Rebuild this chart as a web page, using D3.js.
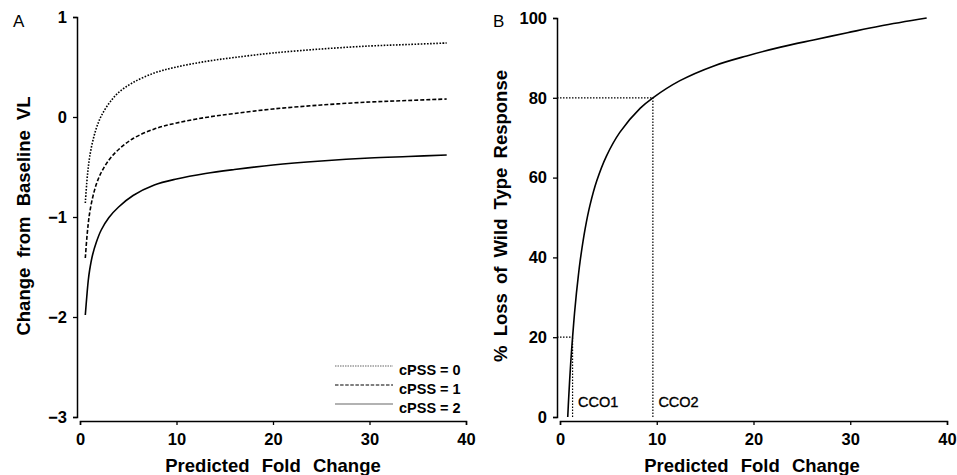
<!DOCTYPE html>
<html>
<head>
<meta charset="utf-8">
<script src="https://cdn.jsdelivr.net/npm/d3@7"></script>
<style>
  html, body { margin: 0; padding: 0; background: #fff; }
  svg { display: block; font-family: "Liberation Sans", Arial, Helvetica, sans-serif; }
  .tick text { font-weight: bold; font-size: 16.5px; fill: #000; }
</style>
</head>
<body>
<svg id="chart" width="957" height="475"></svg>
<script>
// ---------- Panel A data ----------
const foldA = [0.55, 0.7, 0.85, 1.0, 1.3, 1.7, 2.2, 3.0, 4.0, 5.5, 7.7, 10, 13, 16, 20, 25, 30, 34, 38];
const cpss0 = [-0.86, -0.66, -0.51, -0.40, -0.25, -0.11, 0.01, 0.135, 0.245, 0.345, 0.44, 0.50, 0.555, 0.595, 0.64, 0.68, 0.71, 0.725, 0.74];
const cpss1 = [-1.41, -1.22, -1.07, -0.96, -0.81, -0.67, -0.555, -0.43, -0.325, -0.215, -0.12, -0.06, -0.005, 0.035, 0.08, 0.12, 0.15, 0.165, 0.18];
const cpss2 = [-1.98, -1.80, -1.64, -1.53, -1.38, -1.25, -1.13, -1.005, -0.9, -0.785, -0.68, -0.62, -0.565, -0.525, -0.48, -0.44, -0.41, -0.395, -0.38];
const seriesNamesA = ["cPSS = 0", "cPSS = 1", "cPSS = 2"];
const xTicksA = [0, 10, 20, 30, 40];
const yTicksA = [-3, -2, -1, 0, 1];

// ---------- Panel B data ----------
const foldB = [0.8, 0.9, 1.0, 1.1, 1.2, 1.3, 1.5, 1.7, 1.9, 2.07, 2.6, 3.1, 3.8, 4.8, 6.2, 8.3, 9.6, 12.4, 15.9, 19.3, 22.8, 26.2, 29.7, 33.1, 37.9];
const lossB = [0, 4.9, 9.3, 13.3, 16.8, 20.0, 26.0, 31.1, 35.5, 38.9, 47.2, 53.1, 59.2, 65.4, 71.4, 77.4, 80.0, 84.3, 88.0, 90.5, 92.7, 94.5, 96.3, 98.0, 100];
const cutoffFold = [1.3, 9.6];
const cutoffLoss = [20, 80];
const cutoffLabels = ["CCO1", "CCO2"];
const xTicksB = [0, 10, 20, 30, 40];
const yTicksB = [0, 20, 40, 60, 80, 100];

const svg = d3.select("#chart");
const fmt = d3.format("d");

// dash styles per series
const dashes = ["1.6,1.5", "4,2", null];

function styleAxis(a) {
  a.selectAll(".domain").attr("stroke", "#000").attr("stroke-width", 1.5);
  a.selectAll(".tick line").attr("stroke", "#000").attr("stroke-width", 1.3);
}

// ---------- Panel A ----------
const xA = d3.scaleLinear().domain([0, 40]).range([80, 466]);
const yA = d3.scaleLinear().domain([-3, 1]).range([417, 17]);

const gA = svg.append("g");
const axXA = gA.append("g").attr("transform", "translate(0,421)")
  .call(d3.axisBottom(xA).tickValues(xTicksA).tickFormat(fmt).tickSizeOuter(0).tickSize(4).tickPadding(8));
const axYA = gA.append("g").attr("transform", "translate(77,0)")
  .call(d3.axisLeft(yA).tickValues(yTicksA).tickFormat(fmt).tickSizeOuter(0).tickSize(4).tickPadding(6));
styleAxis(axXA); styleAxis(axYA);

const lineA = d3.line().x(d => xA(d[0])).y(d => yA(d[1])).curve(d3.curveCatmullRom.alpha(0.5));
[cpss0, cpss1, cpss2].forEach((vals, i) => {
  gA.append("path")
    .datum(foldA.map((f, j) => [f, vals[j]]))
    .attr("d", lineA)
    .attr("fill", "none")
    .attr("stroke", "#000")
    .attr("stroke-width", 1.6)
    .attr("stroke-dasharray", dashes[i]);
});

// legend
const legY = [366, 385, 404];
seriesNamesA.forEach((name, i) => {
  gA.append("line")
    .attr("x1", 335).attr("x2", 393)
    .attr("y1", legY[i]).attr("y2", legY[i])
    .attr("stroke", i === 1 ? "#000" : "#666")
    .attr("stroke-width", i === 0 ? 1.1 : 1.2)
    .attr("stroke-dasharray", i === 0 ? "1.5,1" : (i === 1 ? "3.5,1.6" : null));
  gA.append("text")
    .attr("x", 399).attr("y", legY[i] + 8.5)
    .attr("font-size", 14.5).attr("font-weight", "bold")
    .text(name);
});

gA.append("text").attr("x", 273).attr("y", 472)
  .attr("text-anchor", "middle").attr("font-size", 18.5).attr("font-weight", "bold")
  .attr("word-spacing", 7)
  .text("Predicted Fold Change");
gA.append("text").attr("transform", "translate(30,216) rotate(-90)")
  .attr("text-anchor", "middle").attr("font-size", 18.5).attr("font-weight", "bold")
  .attr("word-spacing", 5)
  .text("Change from Baseline VL");
gA.append("text").attr("x", 13).attr("y", 27)
  .attr("font-size", 17).text("A");

// ---------- Panel B ----------
const xB = d3.scaleLinear().domain([0, 40]).range([560, 947]);
const yB = d3.scaleLinear().domain([0, 100]).range([417, 18]);
const yAxisXB = 557;

const gB = svg.append("g");
const axXB = gB.append("g").attr("transform", "translate(0,421)")
  .call(d3.axisBottom(xB).tickValues(xTicksB).tickFormat(fmt).tickSizeOuter(0).tickSize(4).tickPadding(8));
const axYB = gB.append("g").attr("transform", `translate(${yAxisXB},0)`)
  .call(d3.axisLeft(yB).tickValues(yTicksB).tickFormat(fmt).tickSizeOuter(0).tickSize(4).tickPadding(6));
styleAxis(axXB); styleAxis(axYB);

// cutoff guide lines
cutoffFold.forEach((f, i) => {
  gB.append("line")
    .attr("x1", yAxisXB).attr("x2", xB(f))
    .attr("y1", yB(cutoffLoss[i])).attr("y2", yB(cutoffLoss[i]))
    .attr("stroke", "#000").attr("stroke-width", 1.2).attr("stroke-dasharray", "1.5,1.5");
  gB.append("line")
    .attr("x1", xB(f)).attr("x2", xB(f))
    .attr("y1", yB(0)).attr("y2", yB(cutoffLoss[i]))
    .attr("stroke", "#000").attr("stroke-width", 1.2).attr("stroke-dasharray", "1.5,1.5");
  gB.append("text")
    .attr("x", xB(f) + 5.5).attr("y", yB(0) - 10.5)
    .attr("font-size", 14.5)
    .attr("stroke", "#000").attr("stroke-width", 0.35)
    .text(cutoffLabels[i]);
});

const lineB = d3.line().x(d => xB(d[0])).y(d => yB(d[1])).curve(d3.curveCatmullRom.alpha(0.5));
gB.append("path")
  .datum(foldB.map((f, j) => [f, lossB[j]]))
  .attr("d", lineB)
  .attr("fill", "none").attr("stroke", "#000").attr("stroke-width", 1.6);

gB.append("text").attr("x", 752).attr("y", 472)
  .attr("text-anchor", "middle").attr("font-size", 18.5).attr("font-weight", "bold")
  .attr("word-spacing", 7)
  .text("Predicted Fold Change");
gB.append("text").attr("transform", "translate(507,216) rotate(-90)")
  .attr("text-anchor", "middle").attr("font-size", 18.5).attr("font-weight", "bold")
  .attr("word-spacing", 4)
  .text("% Loss of Wild Type Response");
gB.append("text").attr("x", 493).attr("y", 27)
  .attr("font-size", 17).text("B");
</script>
</body>
</html>
